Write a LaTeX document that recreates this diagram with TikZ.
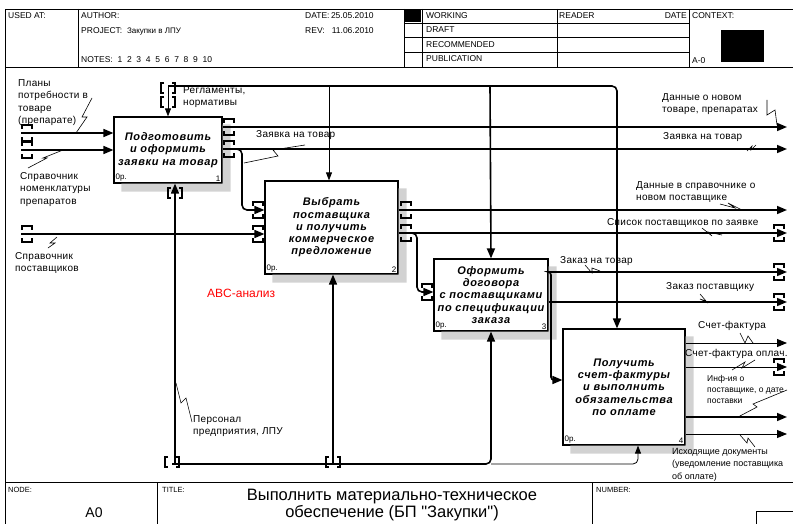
\documentclass[tikz,border=0pt]{standalone}
\usepackage{fontspec}
\setmainfont{Liberation Sans}
\newfontfamily\plainsans{Liberation Sans}
\usetikzlibrary{arrows.meta,calc}

% tunnel brackets round a horizontal / a vertical arrow
\newcommand{\tunh}[2][tun]{\draw[#1] ($(#2)+(-5,-4)$) -- ++(0,-4) -- ++(10,0) -- ++(0,4)
  ($(#2)+(-5,4)$) -- ++(0,4) -- ++(10,0) -- ++(0,-4);}
\newcommand{\tunv}[2][tun]{\draw[#1] ($(#2)+(-4,-5)$) -- ++(-3,0) -- ++(0,10) -- ++(3,0)
  ($(#2)+(4,-5)$) -- ++(3,0) -- ++(0,10) -- ++(-3,0);}
% hatched shadow of an activity box
\newcommand{\boxshadow}[1]{\fill[boxshade] ($(#1.north east)+(0,8)$) -- ++(8,0)
  |- ($(#1.south west)+(8,8)$) -- ++(0,-8) -- (#1.south east) -- cycle;}

\begin{document}
\begin{tikzpicture}[x=1pt,y=-1pt,
    font=\fontsize{10}{12.5}\selectfont\addfontfeatures{LetterSpace=3},
    fbox/.style={draw,line width=1.2pt,fill=white,align=center,inner sep=0pt,
      font=\fontsize{11}{12.3}\selectfont\bfseries\itshape\addfontfeatures{LetterSpace=6}},
    boxshade/.style={fill=gray!35},
    num/.style={inner sep=2pt,font=\fontsize{8}{9}\selectfont},
    lbl/.style={anchor=north west,inner sep=0pt,align=left},
    hdr/.style={anchor=west,inner sep=0pt,font=\fontsize{8.5}{10}\selectfont},
    frame/.style={line width=0.8pt},
    arr/.style={line width=1.6pt,rounded corners=5pt,-{Triangle[length=10pt,width=8pt]}},
    thinarr/.style={line width=0.8pt,rounded corners=5pt,-{Triangle[length=8pt,width=6pt]}},
    tun/.style={line width=1.1pt},
    sq/.style={line width=0.6pt}]
  \useasboundingbox (0,0) rectangle (797,524);
  % form
  \draw[frame] (5,524) -- (5,9) -- (793,9);
  \draw[frame] (5,67) -- (793,67) (5,482) -- (793,482);
  \draw[frame] (78,9) -- (78,67) (404,9) -- (404,67) (422,9) -- (422,67)
               (557,9) -- (557,67) (689,9) -- (689,67);
  \draw[frame] (404,23) -- (689,23) (404,37) -- (689,37) (404,52) -- (689,52);
  \draw[frame] (157,482) -- (157,524) (592,482) -- (592,524) (756,524) -- (756,511) -- (793,511);
  \fill (405,10) rectangle (421,22);
  \fill (721,30) rectangle (764,62);
  \node[hdr] (usedat) at (8,16) {USED AT:};
  \node[hdr] (author) at (81,16) {AUTHOR:};
  \node[hdr] (project) at (81,31) {PROJECT:\ \ {\fontsize{8}{9}\selectfont Закупки в ЛПУ}};
  \node[hdr] (notes) at (81,60) {NOTES:\ \ 1\ \ 2\ \ 3\ \ 4\ \ 5\ \ 6\ \ 7\ \ 8\ \ 9\ \ 10};
  \node[hdr] (date) at (305,16) {DATE:\,25.05.2010};
  \node[hdr] (rev) at (305,31) {REV:\ \ \ 11.06.2010};
  \node[hdr] (working) at (426,16) {WORKING};
  \node[hdr] (draft) at (426,30) {DRAFT};
  \node[hdr] (recom) at (426,45) {RECOMMENDED};
  \node[hdr] (publ) at (426,59) {PUBLICATION};
  \node[hdr] (reader) at (559,16) {READER};
  \node[hdr,anchor=east] (rdate) at (687,16) {DATE};
  \node[hdr] (context) at (692,16) {CONTEXT:};
  \node[hdr] (actx) at (692,61) {A-0};
  \node[hdr,font=\fontsize{7.5}{9}\selectfont] (nodehd) at (8,490) {NODE:};
  \node[hdr,font=\fontsize{7.5}{9}\selectfont] (titlehd) at (162,490) {TITLE:};
  \node[hdr,font=\fontsize{7.5}{9}\selectfont] (numhd) at (596,490) {NUMBER:};
  \node[font=\fontsize{14}{16}\selectfont] (a0) at (94,513) {A0};
  \node[align=center,font=\plainsans\fontsize{16.5}{17}\selectfont] (ttl) at (392,505)
    {Выполнить материально-техническое\\обеспечение (БП "Закупки")};

  % activities
  \node[fbox,minimum width=108pt,minimum height=66pt] (b1) at (168,150)
    {Подготовить\\и оформить\\заявки на товар};
  \node[fbox,minimum width=133pt,minimum height=93pt] (b2) at (331.5,227.5)
    {Выбрать\\поставщика\\и получить\\коммерческое\\предложение};
  \node[fbox,minimum width=114pt,minimum height=72pt] (b3) at (491,295)
    {Оформить\\договора\\с поставщиками\\по спецификации\\заказа};
  \node[fbox,minimum width=122pt,minimum height=116pt] (b4) at (624,387)
    {Получить\\счет-фактуры\\и выполнить\\обязательства\\по оплате};
  \foreach \b/\n in {b1/1,b2/2,b3/3,b4/4}{
    \boxshadow{\b}
    \node[num,anchor=south west] (\b p) at (\b.south west) {0р.};
    \node[num,anchor=south east] (\b n) at (\b.south east) {\n};
  }

  % free ends
  \coordinate (plan) at (21,133);
  \coordinate (nom) at (21,150);
  \coordinate (post) at (21,234);
  \coordinate (reg) at (168,86);
  \coordinate (c2) at (329,86);
  \coordinate (c3) at (490,86);
  \coordinate (c4) at (617,86);
  \coordinate (pers) at (172,464);
  \coordinate (m1) at (175,464);
  \coordinate (m2) at (333,464);
  \coordinate (m4) at (638,464);
  \coordinate (nov) at (787,127);
  \coordinate (zay) at (787,149);
  \coordinate (ds) at (787,210);
  \coordinate (sp) at (787,233);
  \coordinate (zt) at (787,272);
  \coordinate (zp) at (787,302);
  \coordinate (sf) at (787,343);
  \coordinate (sfo) at (787,367);
  \coordinate (inf) at (787,417);
  \coordinate (ish) at (787,434);

  % inputs
  \draw[arr] (plan) -- (plan -| b1.west);
  \draw[arr] (nom) -- (nom -| b1.west);
  \draw[arr] (post) -- (post -| b2.west);
  \draw[arr] ($(zay -| b1.east)+(8,0)$) -| (242,200) |- (ds -| b2.west);
  \draw[arr] ($(sp -| b2.east)+(10,0)$) -| (417,280) |- (b3.west |- 0,292);
  \draw[arr,rounded corners=3pt] ($(zt -| b3.east)+(2,0)$) -| (551,370) |- (b4.west |- 0,380);
  % controls
  \draw[thinarr] (reg) -- (b1.north);
  \draw[arr] (reg) -- (c4) -- (c4 |- b4.north);
  \draw[thinarr] (c2) -- (c2 |- b2.north);
  \draw[arr] (c3) -- (b3.north);
  % mechanisms
  \draw[arr] (pers) -| (b3.south);
  \draw[arr] (m1) -- (m1 |- b1.south);
  \draw[arr] (m2) -- (m2 |- b2.south);
  \draw[thinarr] (b3.south |- pers) -- (m4) -- (m4 |- b4.south);
  % outputs
  \draw[arr] (nov -| b1.east) -- (nov);
  \draw[arr] (zay -| b1.east) -- (zay);
  \draw[arr] (ds -| b2.east) -- (ds);
  \draw[arr] (sp -| b2.east) -- (sp);
  \draw[arr] (zt -| b3.east) -- (zt);
  \draw[arr] (zp -| b3.east) -- (zp);
  \draw[arr,line width=1pt] (sf -| b4.east) -- (sf);
  \draw[arr,line width=1pt] (sfo -| b4.east) -- (sfo);
  \draw[arr] (inf -| b4.east) -- (inf);
  \draw[arr,line width=1pt] (ish -| b4.east) -- (ish);

  % tunnels
  \foreach \p in {{27,133},{27,150},{27,234},{229,127},{229,149},{258,210},{258,234},
                  {406,210},{406,233},{427,292},{779,233},{779,272},{779,302},{779,367}}
    {\tunh{\p}}
  \foreach \p in {{168,102},{175,193},{333,462}}
    {\tunv{\p}}
  \tunv[line width=2pt]{168,88}
  \tunv[line width=2pt]{172,462}

  % arrow labels
  \node[lbl] (lplan) at (18,79) {Планы\\потребности в\\товаре\\(препарате)};
  \node[lbl] (lnom) at (20,172) {Справочник\\номенклатуры\\препаратов};
  \node[lbl] (lpost) at (15,252) {Справочник\\поставщиков};
  \node[lbl] (lreg) at (183,86) {Регламенты,\\нормативы};
  \node[lbl] (lzay1) at (256,130) {Заявка на товар};
  \node[lbl] (lnov) at (662,93) {Данные о новом\\товаре, препаратах};
  \node[lbl] (lzay2) at (663,132) {Заявка на товар};
  \node[lbl] (lds) at (636,181) {Данные в справочнике о\\новом поставщике};
  \node[lbl] (lsp) at (607,218) {Список поставщиков по заявке};
  \node[lbl] (lzt) at (560,256) {Заказ на товар};
  \node[lbl] (lzp) at (666,282) {Заказ поставщику};
  \node[lbl] (lsf) at (698,321) {Счет-фактура};
  \node[lbl] (lsfo) at (685,349) {Счет-фактура оплач.};
  \node[lbl,font=\fontsize{8.5}{11}\selectfont] (linf) at (707,375) {Инф-ия о\\поставщике, о дате\\поставки};
  \node[lbl,font=\fontsize{9}{12.5}\selectfont] (lish) at (672,448)
    {Исходящие документы\\(уведомление поставщика\\об оплате)};
  \node[lbl] (lpers) at (193,415) {Персонал\\предприятия, ЛПУ};
  \node[lbl,text=red,font=\fontsize{12}{14}\selectfont] (abc) at (207,289) {ABC-анализ};

  % squiggles
  \draw[sq] (92,98) -- (82,117) -- (87,117) -- (76,133);
  \draw[sq] (28,168) -- (47,158) -- (43,158) -- (63,150);
  \draw[sq] (57,237) -- (50,243) -- (55,243) -- (48,248);
  \draw[sq] (244,163) -- (278,156) -- (273,150) -- (305,145);
  \draw[sq] (767,100) -- (767,115) -- (775,110) -- (777,125);
  \draw[sq] (747,151) -- (752,146) -- (751,150) -- (756,145);
  \draw[sq] (720,204) -- (735,208) -- (728,203) -- (742,210);
  \draw[sq] (702,228) -- (712,236) -- (708,232) -- (722,235);
  \draw[sq] (585,265) -- (592,273) -- (592,268) -- (600,271);
  \draw[sq] (700,294) -- (706,301) -- (700,299) -- (708,303);
  \draw[sq] (740,333) -- (745,343) -- (748,336) -- (753,343);
  \draw[sq] (732,370) -- (745,362) -- (742,368) -- (755,360);
  \draw[sq] (738,417) -- (757,407) -- (753,404) -- (787,390);
  \draw[sq] (740,435) -- (747,443) -- (748,438) -- (755,447);
  \draw[sq] (176,383) -- (181,403) -- (186,398) -- (192,422);
\end{tikzpicture}
\end{document}
